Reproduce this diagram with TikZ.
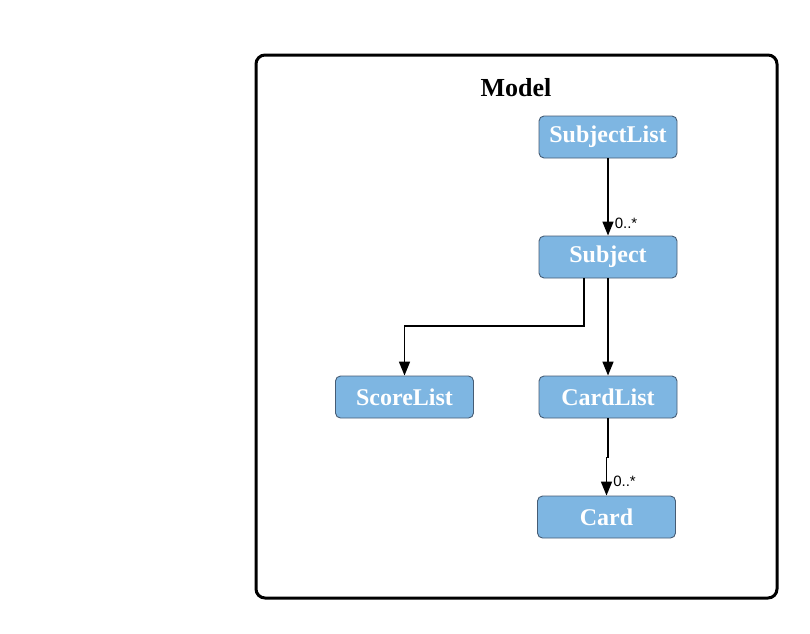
\documentclass[tikz,border=0pt]{standalone}
\usepackage{fontspec}
\setmainfont{Liberation Serif}
\newfontfamily\labelfont{Liberation Sans}
\usetikzlibrary{arrows.meta}
\definecolor{boxfill}{RGB}{126,182,226}
\definecolor{boxline}{RGB}{70,92,116}
\begin{document}
\begin{tikzpicture}[x=1pt,y=-1pt,cls/.style={draw=boxline,line width=0.9pt,
        fill=boxfill,rounded corners=5pt,minimum width=138pt,minimum
        height=42pt,inner sep=0pt,text=white,
        font=\bfseries\fontsize{24}{27}\selectfont},
        assoc/.style={-{Triangle[length=14pt,width=11pt]},line width=1.6pt},
        mult/.style={font=\labelfont\fontsize{15}{16}\selectfont,inner sep=0pt,
        anchor=west,xshift=6pt}]

    \useasboundingbox (0,0) rectangle (810,633);

    % the frame

    \draw[line width=3pt,rounded corners=9pt] (256,55) rectangle (777,598);
    \node[font=\bfseries\fontsize{26}{30}\selectfont] (title) at (516,88) {Model};

    % the classes

    \node[cls] (sublist) at (608,137) {SubjectList};
    \node[cls] (subject) at (608,257) {Subject};
    \node[cls] (scores) at (404.5,397) {ScoreList};
    \node[cls] (cards) at (608,397) {CardList};
    \node[cls] (card) at (606.5,517) {Card};

    \coordinate (bend) at (584,326);
    \coordinate (jog) at (606.5,457);

    \draw[assoc] (sublist) to node[mult,pos=0.84]{0..*} (subject);
    \draw[assoc] (subject.south -| bend) |- (bend) -| (scores);
    \draw[assoc] (subject) to (cards);
    \draw[line width=1.6pt] (cards.south) -- (608,457) -- (jog);
    \draw[assoc] (jog) to node[mult,pos=0.62]{0..*} (card);
  \end{tikzpicture}
\end{document}
